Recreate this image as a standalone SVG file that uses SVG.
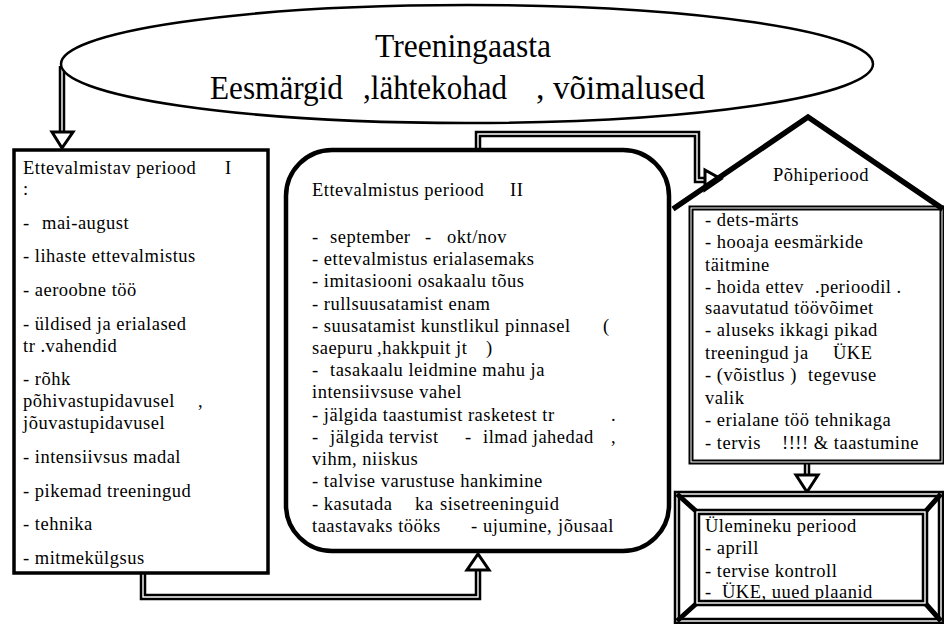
<svg xmlns="http://www.w3.org/2000/svg" width="944" height="624" viewBox="0 0 944 624">
<style>
.t{font-family:"Liberation Serif","Times New Roman",serif;font-size:18.5px;letter-spacing:0.5px;fill:#000}
.h{font-family:"Liberation Serif","Times New Roman",serif;font-size:34px;fill:#000}
.dl{fill:none;stroke:#000;stroke-width:6.5;stroke-linejoin:miter}
.dlw{fill:none;stroke:#fff;stroke-width:1.4;stroke-linejoin:miter}
.ah{fill:#fff;stroke:#000;stroke-width:3;stroke-linejoin:miter}
</style>
<rect width="944" height="624" fill="#fff"/>
<g id="connectors">
  <g id="c1">
    <path class="dl" d="M62,66 V132"/>
    <path class="dlw" d="M62,66 V132"/>
    <polygon class="ah" points="52,132 73,132 62,148"/>
  </g>
  <g id="c2">
    <path class="dl" d="M143,573 V597 H478 V570"/>
    <path class="dlw" d="M143,573 V597 H478 V570"/>
    <polygon class="ah" points="467,570 489,570 478,554"/>
  </g>
  <g id="c3">
    <path class="dl" d="M478,150 V134 H697 V180 H706"/>
    <path class="dlw" d="M478,150 V134 H697 V180 H706"/>
    <polygon class="ah" points="705,170 705,190 721,179"/>
  </g>
  <g id="c4">
    <path class="dl" d="M807,462 V475"/>
    <path class="dlw" d="M807,462 V475"/>
    <polygon class="ah" points="796,475 818,475 807,492"/>
  </g>
</g>
<g id="goal">
  <ellipse cx="467" cy="64" rx="406" ry="59" fill="#fff" stroke="#000" stroke-width="2.5"/>
  <text class="h" x="375" y="57" textLength="176" lengthAdjust="spacingAndGlyphs">Treeningaasta</text>
  <text class="h" x="210" y="99" textLength="133" lengthAdjust="spacingAndGlyphs">Eesmärgid</text>
  <text class="h" x="363" y="99" textLength="144" lengthAdjust="spacingAndGlyphs">,lähtekohad</text>
  <text class="h" x="536" y="99">,</text>
  <text class="h" x="553" y="99" textLength="152" lengthAdjust="spacingAndGlyphs">võimalused</text>
</g>
<g id="period1">
  <rect x="14" y="150" width="254" height="423" fill="#fff" stroke="#000" stroke-width="3.5"/>
  <text class="t" x="23" y="174">Ettevalmistav periood<tspan x="225">I</tspan></text>
  <text class="t" x="23" y="195">:</text>
  <text class="t" x="23" y="229">-<tspan x="42">mai-august</tspan></text>
  <text class="t" x="23" y="262">- lihaste ettevalmistus</text>
  <text class="t" x="23" y="296">- aeroobne töö</text>
  <text class="t" x="23" y="330">- üldised ja erialased</text>
  <text class="t" x="23" y="352">tr .vahendid</text>
  <text class="t" x="23" y="385">- rõhk</text>
  <text class="t" x="23" y="407">põhivastupidavusel<tspan x="198">,</tspan></text>
  <text class="t" x="23" y="429">jõuvastupidavusel</text>
  <text class="t" x="23" y="463">- intensiivsus madal</text>
  <text class="t" x="23" y="497">- pikemad treeningud</text>
  <text class="t" x="23" y="530">- tehnika</text>
  <text class="t" x="23" y="564">- mitmekülgsus</text>
</g>
<g id="period2">
  <rect x="286" y="150" width="383" height="401" rx="46" ry="46" fill="#fff" stroke="#000" stroke-width="4.5"/>
  <text class="t" x="312" y="196">Ettevalmistus periood<tspan x="510">II</tspan></text>
  <text class="t" x="312" y="243">-<tspan x="330">september</tspan><tspan x="425">-</tspan><tspan x="447">okt/nov</tspan></text>
  <text class="t" x="312" y="265">- ettevalmistus erialasemaks</text>
  <text class="t" x="312" y="287">- imitasiooni osakaalu tõus</text>
  <text class="t" x="312" y="310">- rullsuusatamist enam</text>
  <text class="t" x="312" y="332">- suusatamist kunstlikul pinnasel<tspan x="603">(</tspan></text>
  <text class="t" x="312" y="354">saepuru<tspan x="377">,hakkpuit jt</tspan><tspan x="486">)</tspan></text>
  <text class="t" x="312" y="376">-<tspan x="330">tasakaalu leidmine mahu ja</tspan></text>
  <text class="t" x="312" y="398">intensiivsuse vahel</text>
  <text class="t" x="312" y="421">- jälgida taastumist rasketest tr<tspan x="611">.</tspan></text>
  <text class="t" x="312" y="443">-<tspan x="330">jälgida tervist</tspan><tspan x="465">-</tspan><tspan x="483">ilmad jahedad</tspan><tspan x="611">,</tspan></text>
  <text class="t" x="312" y="465">vihm,  niiskus</text>
  <text class="t" x="312" y="487">- talvise varustuse hankimine</text>
  <text class="t" x="312" y="510">- kasutada<tspan x="415">ka</tspan><tspan x="440">sisetreeninguid</tspan></text>
  <text class="t" x="312" y="532">taastavaks tööks<tspan x="471">-</tspan><tspan x="483">ujumine</tspan><tspan x="547">,</tspan><tspan x="558">jõusaal</tspan></text>
</g>
<g id="main-period">
  <rect x="691" y="208" width="251" height="254" fill="#fff" stroke="#000" stroke-width="5"/>
  <rect x="691" y="208" width="251" height="254" fill="none" stroke="#fff" stroke-width="1"/>
  <polyline points="673,209 808,117 943,209" fill="none" stroke="#000" stroke-width="5.5" stroke-linejoin="miter"/>
  <text class="t" x="773" y="181">Põhiperiood</text>
  <text class="t" x="705" y="226">- dets-märts</text>
  <text class="t" x="705" y="248">- hooaja eesmärkide</text>
  <text class="t" x="705" y="271">täitmine</text>
  <text class="t" x="705" y="293">- hoida ettev<tspan x="815">.perioodil .</tspan></text>
  <text class="t" x="705" y="314">saavutatud töövõimet</text>
  <text class="t" x="705" y="336">- aluseks ikkagi pikad</text>
  <text class="t" x="705" y="359">treeningud ja<tspan x="833">ÜKE</tspan></text>
  <text class="t" x="705" y="381">- (võistlus )<tspan x="808">tegevuse</tspan></text>
  <text class="t" x="705" y="404">valik</text>
  <text class="t" x="705" y="426">- erialane töö tehnikaga</text>
  <text class="t" x="705" y="449">- tervis<tspan x="782">!!!! &amp; taastumine</tspan></text>
</g>
<g id="transition">
  <rect class="dl" x="677" y="494" width="264" height="127"/>
  <rect class="dlw" x="677" y="494" width="264" height="127"/>
  <path d="M677,494 L697,512 M941,494 L925,512 M677,621 L697,603 M941,621 L925,603" stroke="#000" stroke-width="5" fill="none"/>
  <rect class="dl" x="697" y="512" width="228" height="91" fill="#fff"/>
  <rect class="dlw" x="697" y="512" width="228" height="91"/>
  <text class="t" x="705" y="532">Ülemineku periood</text>
  <text class="t" x="705" y="554">- aprill</text>
  <text class="t" x="705" y="577">- tervise kontroll</text>
  <text class="t" x="705" y="598">-<tspan x="722">ÜKE, uued plaanid</tspan></text>
</g>
</svg>
